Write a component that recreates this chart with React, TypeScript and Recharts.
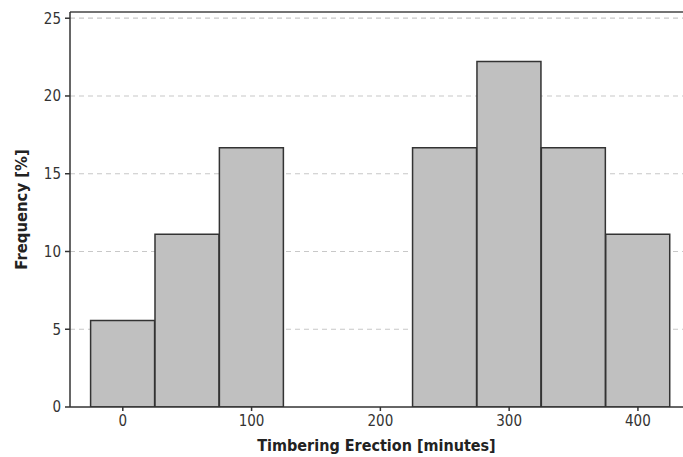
import {
  ComposedChart,
  Bar,
  XAxis,
  YAxis,
  CartesianGrid,
  ReferenceLine,
} from 'recharts'

// Histogram bins (centre in minutes) and their frequency in %
const binCenters = [0, 50, 100, 150, 200, 250, 300, 350, 400]
const frequencies = [5.56, 11.11, 16.67, 0, 0, 16.67, 22.22, 16.67, 11.11]
const xTicks = [0, 100, 200, 300, 400]
const yTicks = [0, 5, 10, 15, 20, 25]

const data = binCenters.map((x, i) => ({ x, freq: frequencies[i] }))

const FONT = "'DejaVu Sans Condensed', 'DejaVu Sans', sans-serif"
const Y_MAX = 25.4

export default function App() {
  return (
    <div style={{ position: 'fixed', left: 0, top: 0, width: 683, height: 457, background: '#fff' }}>
      <ComposedChart
        width={683}
        height={457}
        data={data}
        margin={{ top: 12, right: 0, bottom: 0, left: 0 }}
        barCategoryGap={0}
        barGap={0}
      >
        <CartesianGrid
          vertical={false}
          horizontalValues={[5, 10, 15, 20, 25]}
          stroke="#c8c8c8"
          strokeDasharray="5 4"
          strokeWidth={1.2}
        />
        <XAxis
          dataKey="x"
          type="number"
          domain={[-41, 435]}
          ticks={xTicks}
          allowDataOverflow
          height={50}
          stroke="#333"
          strokeWidth={1.5}
          tickSize={4}
          tickMargin={4}
          tick={{ fontSize: 15, fill: '#333', fontFamily: FONT }}
          label={{
            value: 'Timbering Erection [minutes]',
            position: 'insideBottom',
            offset: 6,
            style: { fontSize: 16, fontWeight: 700, fill: '#222', fontFamily: FONT },
          }}
        />
        <YAxis
          type="number"
          domain={[0, Y_MAX]}
          ticks={yTicks}
          allowDataOverflow
          width={70}
          stroke="#333"
          strokeWidth={1.5}
          tickSize={5}
          tickMargin={4}
          tick={{ fontSize: 15, fill: '#333', fontFamily: FONT }}
          label={{
            value: 'Frequency [%]',
            angle: -90,
            position: 'insideLeft',
            offset: 21,
            style: { textAnchor: 'middle', fontSize: 16.5, fontWeight: 700, fill: '#222', fontFamily: FONT },
          }}
        />
        <ReferenceLine y={Y_MAX} stroke="#444" strokeWidth={1.5} />
        <Bar
          dataKey="freq"
          fill="#c0c0c0"
          stroke="#333"
          strokeWidth={1.5}
          isAnimationActive={false}
        />
      </ComposedChart>
    </div>
  )
}
